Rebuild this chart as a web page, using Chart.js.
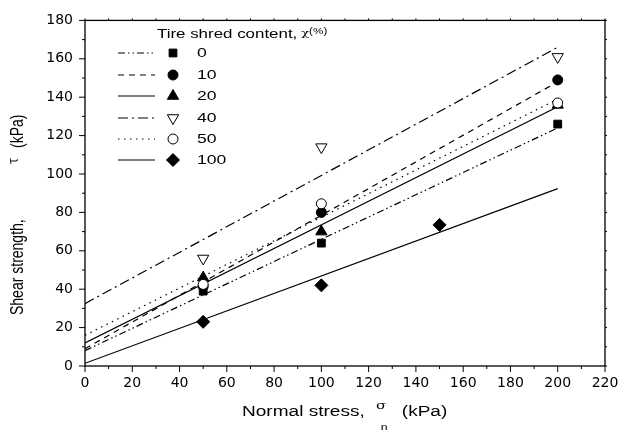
<!DOCTYPE html>
<html lang="en">
<head>
<meta charset="UTF-8">
<title>Shear strength vs normal stress</title>
<script src="https://cdn.jsdelivr.net/npm/chart.js"></script>
<style>
  html, body { margin: 0; padding: 0; background: #fff; }
  .wrap { width: 624px; height: 434px; position: relative; }
</style>
</head>
<body>
<div class="wrap"><canvas id="grafico"></canvas></div>
<script>
// measured points, normal stress (kPa) -> shear strength (kPa)
const stress = [50, 100, 200];
const stress100 = [50, 100, 150];
const tau0 = [39, 64, 126];
const tau10 = [41.5, 80, 149];
const tau20 = [46, 70, 136];
const tau40 = [56, 114, 161];
const tau50 = [42.5, 84.5, 137];
const tau100 = [23, 42, 73.5];

// fitted envelopes, value at sigma = 0 and sigma = 200
const fitX = [0, 200];
const fit0 = [8, 124];
const fit10 = [9, 148];
const fit20 = [12, 135];
const fit40 = [32.5, 166];
const fit50 = [16, 139];
const fit100 = [1.4, 92.4];

const labels = ['0', '10', '20', '40', '50', '100'];

const pts = (xs, ys) => xs.map((v, i) => ({ x: v, y: ys[i] }));

const series = [
  { pts: pts(stress, tau0), fit: fit0, style: 'rect', r: 5.5, fill: '#000', dash: [7, 3, 1.5, 3, 1.5, 3], rot: 0 },
  { pts: pts(stress, tau10), fit: fit10, style: 'circle', r: 5, fill: '#000', dash: [6, 5], rot: 0 },
  { pts: pts(stress, tau20), fit: fit20, style: 'triangle', r: 6.5, fill: '#000', dash: [], rot: 0 },
  { pts: pts(stress, tau40), fit: fit40, style: 'triangle', r: 6.5, fill: '#fff', dash: [10, 4, 2, 4], rot: 180 },
  { pts: pts(stress, tau50), fit: fit50, style: 'circle', r: 5, fill: '#fff', dash: [1.5, 4.5], rot: 0 },
  { pts: pts(stress100, tau100), fit: fit100, style: 'rectRot', r: 6.5, fill: '#000', dash: [], rot: 0 }
];

const datasets = [];
// markers first so they are drawn on top
series.slice().reverse().forEach(s => {
  datasets.push({
    data: s.pts,
    pointStyle: s.style,
    pointRadius: s.r,
    pointHoverRadius: s.r,
    pointRotation: s.rot,
    pointBackgroundColor: s.fill,
    pointBorderColor: '#000',
    pointBorderWidth: 1,
    showLine: false
  });
});
series.forEach(s => {
  datasets.push({
    data: pts(fitX, s.fit),
    showLine: true,
    borderColor: '#000',
    borderWidth: 1.2,
    borderDash: s.dash,
    pointRadius: 0,
    pointHoverRadius: 0
  });
});

function line(ctx, x1, y1, x2, y2) {
  ctx.beginPath();
  ctx.moveTo(x1, y1);
  ctx.lineTo(x2, y2);
  ctx.stroke();
}

function marker(ctx, s, x, y) {
  ctx.save();
  ctx.fillStyle = s.fill;
  ctx.strokeStyle = '#000';
  ctx.lineWidth = 1;
  ctx.setLineDash([]);
  ctx.beginPath();
  const r = s.r;
  if (s.style === 'rect') {
    const h = r * Math.SQRT1_2;
    ctx.rect(x - h, y - h, 2 * h, 2 * h);
  } else if (s.style === 'circle') {
    ctx.arc(x, y, r, 0, Math.PI * 2);
  } else if (s.style === 'rectRot') {
    ctx.moveTo(x, y - r); ctx.lineTo(x + r, y); ctx.lineTo(x, y + r); ctx.lineTo(x - r, y);
    ctx.closePath();
  } else {
    const d = s.rot ? -1 : 1;
    ctx.moveTo(x, y - d * r);
    ctx.lineTo(x + r * 0.866, y + d * r * 0.5);
    ctx.lineTo(x - r * 0.866, y + d * r * 0.5);
    ctx.closePath();
  }
  ctx.fill();
  ctx.stroke();
  ctx.restore();
}

const framePlugin = {
  id: 'frame',
  afterDraw(chart) {
    const ctx = chart.ctx;
    const a = chart.chartArea;
    const x = chart.scales.x, y = chart.scales.y;
    ctx.save();
    ctx.strokeStyle = '#000';
    ctx.lineWidth = 1.3;
    ctx.strokeRect(a.left, a.top, a.right - a.left, a.bottom - a.top);
    ctx.lineWidth = 1;
    for (let v = 0; v <= 220; v += 10) {
      const px = x.getPixelForValue(v);
      line(ctx, px, a.bottom, px, a.bottom + (v % 20 === 0 ? 6 : 3));
      line(ctx, px, a.top, px, a.top - 2);
    }
    for (let v = 0; v <= 180; v += 10) {
      const py = y.getPixelForValue(v);
      line(ctx, a.left, py, a.left - (v % 20 === 0 ? 6 : 3), py);
      line(ctx, a.right, py, a.right + 2, py);
    }

    ctx.fillStyle = '#000';
    ctx.textBaseline = 'middle';
    ctx.textAlign = 'left';

    // y title
    ctx.save();
    ctx.translate(18, 315);
    ctx.rotate(-Math.PI / 2);
    ctx.scale(1, 1.3);
    ctx.font = '14px "Liberation Sans", Arial, sans-serif';
    ctx.fillText('Shear strength,', 0, 0);
    ctx.font = '11px "DejaVu Serif", serif';
    ctx.fillText('\u03C4', 151, -2.5);
    ctx.font = '14px "Liberation Sans", Arial, sans-serif';
    ctx.fillText('(kPa)', 167, 0);
    ctx.restore();

    // x title
    ctx.save();
    ctx.translate(242, 412);
    ctx.scale(1.36, 1);
    ctx.font = '14px "Liberation Sans", Arial, sans-serif';
    ctx.fillText('Normal stress,', 0, 0);
    ctx.font = '11px "DejaVu Serif", serif';
    ctx.fillText('\u03C3', 98.5, -6);
    ctx.font = '9px "Liberation Sans", Arial, sans-serif';
    ctx.fillText('n', 102, 16);
    ctx.font = '14px "Liberation Sans", Arial, sans-serif';
    ctx.fillText('(kPa)', 117.5, 0);
    ctx.restore();

    // legend
    ctx.save();
    ctx.translate(157, 34);
    ctx.scale(1.3, 1);
    ctx.font = '13px "Liberation Sans", Arial, sans-serif';
    ctx.fillText('Tire shred content,', 0, 0);
    ctx.font = '10px "DejaVu Serif", serif';
    ctx.fillText('\u03C7', 111, -1);
    ctx.font = '9px "Liberation Sans", Arial, sans-serif';
    ctx.fillText('(%)', 117, -2);
    ctx.restore();

    const rows = [53, 75, 96, 118, 139, 160];
    series.forEach((s, i) => {
      const ry = rows[i];
      ctx.save();
      ctx.lineWidth = 1.2;
      ctx.setLineDash(s.dash);
      line(ctx, 118, ry, 155, ry);
      ctx.restore();
      marker(ctx, s, 173, ry);
      ctx.save();
      ctx.translate(197, ry);
      ctx.scale(1.3, 1);
      ctx.font = '13.5px "Liberation Sans", Arial, sans-serif';
      ctx.fillText(labels[i], 0, 0);
      ctx.restore();
    });
    ctx.restore();
  }
};

const tickFont = { family: '"DejaVu Sans", sans-serif', size: 14 };

new Chart(document.getElementById('grafico'), {
  type: 'scatter',
  data: { datasets: datasets },
  options: {
    responsive: true,
    maintainAspectRatio: false,
    animation: false,
    layout: { padding: { top: 14, right: 19, left: 0, bottom: 0 } },
    plugins: { legend: { display: false }, tooltip: { enabled: false } },
    scales: {
      x: {
        type: 'linear',
        min: 0,
        max: 220,
        ticks: { stepSize: 20, color: '#000', font: { family: tickFont.family, size: 14, lineHeight: 1.8 }, padding: 5, maxRotation: 0 },
        grid: { display: false, drawTicks: false },
        border: { display: false },
        afterFit(scale) { scale.height = 68; }
      },
      y: {
        type: 'linear',
        min: 0,
        max: 180,
        ticks: { stepSize: 20, color: '#000', font: tickFont, padding: 12 },
        grid: { display: false, drawTicks: false },
        border: { display: false },
        afterFit(scale) { scale.width = 85; }
      }
    }
  },
  plugins: [framePlugin]
});
</script>
</body>
</html>
